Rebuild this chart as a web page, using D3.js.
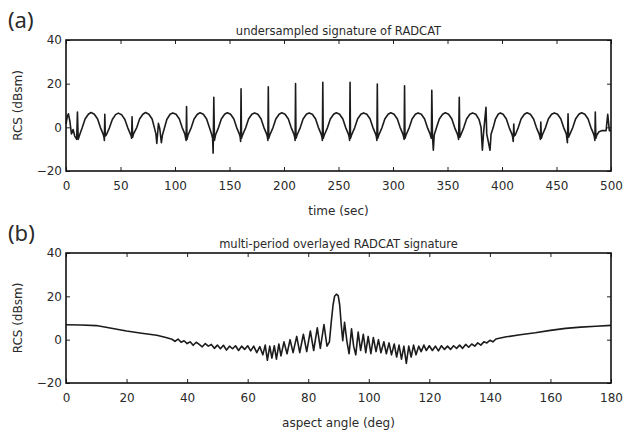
<html>
<head>
  <meta charset="utf-8">
  <script src="https://d3js.org/d3.v7.min.js"></script>
  <style>
    body { margin: 0; background: #fff; }
    text { font-family: "DejaVu Sans", sans-serif; fill: #2a2a2a; }
    .tick line { stroke: #222; stroke-width: 1px; }
    .tick text { font-size: 12px; }
    .frame { fill: none; stroke: #111; stroke-width: 1.6px; }
    .sig { fill: none; stroke: #1c1c1c; stroke-width: 1.6px; stroke-linejoin: round; }
  </style>
</head>
<body>
  <svg id="chart" width="627" height="433"></svg>
  <script>
    // (a) undersampled signature, [time sec, RCS dBsm]
    const sigA = [
      [0,1.5],[1.2,5],[2.2,6.2],[3.5,3],[5,-3],[6.5,-1],[8,-4],[9.8,-5.5],[10.5,7],[11.2,-5.5],[12.5,-3.5],
      [15,0],[17.5,3.8],[20.5,6],[23,6.8],[26,6],[29,3.8],[31.5,0],[34,-3],
      [34.8,-4.5],[35.2,-6],[35.6,6],[36.1,-4],[37,-3.5],
      [40,0],[42.5,3.6],[45.5,5.8],[48,6.5],[51,5.8],[54,3.6],[56.5,0],[59,-3],
      [59.8,-4],[60.2,-5],[60.6,4.8],[61.1,-4.5],[62,-3],
      [65,0],[67.5,3.8],[70.5,6],[73,6.8],[76,6],[79,3.8],[81,0],[82.5,-3],
      [83.3,-7.4],[84.8,1.8],[86,-0.5],[87.5,-7],[88.5,-3.5],
      [90.5,0],[92.5,3.6],[95.5,6],[98,6.6],[101,6],[104,3.8],[106.5,0],[109,-3],
      [109.8,-5],[110.2,-6],[110.6,9.5],[111,-5.5],[112,-3.5],
      [115,0],[117.5,3.8],[120.5,6],[123,6.7],[126,6],[129,3.8],[131.5,0],[133.5,-3],
      [134.5,-5],[135,-11.8],[135.6,13.8],[136.2,-6],[137.2,-3.5],
      [140,0],[142.5,3.8],[145.5,6],[148,6.7],[151,6],[154,3.8],[156.5,0],[159,-3],
      [159.8,-4.5],[160.2,-6.5],[160.6,17.7],[161,-5],[162,-3.5],
      [165,0],[167.5,3.8],[170.5,6],[173,6.6],[176,6],[179,3.8],[181.5,0],[184,-3],
      [184.8,-4.5],[185.2,-6],[185.6,18.6],[186,-5],[187,-3.5],
      [190,0],[192.5,3.8],[195.5,6],[198,6.7],[201,6],[204,3.8],[206.5,0],[209,-3],
      [209.8,-4.5],[210.2,-6],[210.6,20],[211,-5],[212,-3.5],
      [215,0],[217.5,3.8],[220.5,6],[223,6.6],[226,6],[229,3.8],[231.5,0],[234,-3],
      [234.8,-4.5],[235.2,-6],[235.6,20.6],[236,-5],[237,-3.5],
      [240,0],[242.5,3.8],[245.5,6],[248,6.7],[251,6],[254,3.8],[256.5,0],[259,-3],
      [259.8,-4.5],[260.2,-6],[260.6,20.6],[261,-5],[262,-3.5],
      [265,0],[267.5,3.8],[270.5,6],[273,6.6],[276,6],[279,3.8],[281.5,0],[284,-3],
      [284.8,-4.5],[285.2,-6],[285.6,19.8],[286,-5],[287,-3.5],
      [290,0],[292.5,3.8],[295.5,6],[298,6.7],[301,6],[304,3.8],[306.5,0],[309,-3],
      [309.8,-4.5],[310.2,-5.5],[310.6,19],[311,-5],[312,-3.5],
      [315,0],[317.5,3.8],[320.5,6],[323,6.6],[326,6],[329,3.8],[331.5,0],[334,-3],
      [334.8,-4.5],[335.2,-5],[335.6,17],[336.2,-4],[337,-10.5],[337.8,-3.5],
      [340,0],[342.5,3.8],[345.5,6],[348,6.7],[351,6],[354,3.8],[356.5,0],[359,-3],
      [359.8,-4.5],[360.2,-5.5],[360.8,13.8],[361.3,-4.5],[362.2,-3.5],
      [365,0],[367.5,3.8],[370.5,6],[373,6.6],[376,6],[379,3.5],[380.8,0],
      [382,-10.5],[383,-3],[385.3,9.2],[386,-3],[389,-10.5],[390,-3],
      [392,0],[394,3.8],[396.5,6],[398.5,6.6],[401,6],[404,3.8],[406.5,0],[409,-3],
      [409.8,-4.5],[410.3,-6.5],[410.8,1.5],[411.3,-4],[412.2,-3.5],
      [415,0],[417.5,3.8],[420.5,6],[423,6.7],[426,6],[429,3.8],[431.5,0],[434,-3],
      [434.8,-4.5],[435.2,-5.5],[435.6,2.4],[436.1,-5],[437,-3.5],
      [440,0],[442.5,3.8],[445.5,6],[448,6.6],[451,6],[454,3.8],[456.5,0],[459,-3],
      [459.5,-5],[460,-7],[460.6,6.2],[461.1,-4.5],[462,-3.5],
      [465,0],[467.5,3.8],[470.5,6],[473,6.7],[476,6],[479,3.8],[481.5,0],[484,-3],
      [484.8,-4.5],[485.2,-6],[485.6,7],[486.1,-5],[487,-3.5],
      [489,-2],[492,-1.5],[495.5,-1.5],[497,6],[498.5,-1.5],[500,-1.5]
    ];

    // (b) overlayed signature, [aspect deg, RCS dBsm]
    const sigB = [
      [0,6.9],[5,6.8],[10,6.5],[15,5.3],[20,4],[25,3],[30,2],[33,1],[35,0.2],
      [36,-0.8],[37,0.3],[38,-1.2],[39,-0.5],[40,-1.8],[41,-1],[42,-2.6],[43,-1.2],[44,-2.2],
      [45,-3.3],[46,-1.8],[47,-3],[48,-2.2],[49,-4],[50,-2.5],[51,-4.2],[52,-2.6],[53,-4.8],
      [54,-3],[55,-4.2],[56,-2.8],[57,-5],[58,-3],[59,-4.5],[60,-2.8],[61,-5.2],[62,-3],
      [63,-6],[64,-3.2],[65,-7],[65.8,-2.5],[66.5,-9.5],[67.3,-3],[68,-8.5],[68.8,-2.8],
      [69.5,-9],[70.3,-2],[71,-7.5],[72,-1],[73,-6.5],[74,0],[75,-6],[76.2,1.5],[77.2,-6],
      [78.4,2.5],[79.5,-5.5],[80.7,4],[81.8,-5],[83,5.5],[84,-4],[85.2,7],[86.2,-3],[87,-1],
      [87.6,8],[88.2,16],[88.7,20],[89.3,21],[89.9,20.3],[90.4,16],[90.9,7],[91.4,-0.5],
      [92,8],[92.8,-1],[93.5,-6.5],[94.3,5],[95,-3],[95.7,-7],[96.5,3.5],[97.3,-5],[98.2,2.5],
      [99,-6],[99.8,1.5],[100.7,-6.5],[101.5,1],[102.4,-5.5],[103.2,0],[104,-6],[105,-1],
      [105.8,-6.5],[106.7,-1.5],[107.5,-7],[108.4,-2],[109.2,-8],[110,-2.5],[110.8,-9],
      [111.6,-3],[112.4,-11],[113.2,-3],[114,-8],[114.8,-2.5],[115.6,-7],[116.5,-3],
      [117.3,-5.5],[118.2,-2.5],[119,-5],[120,-2.8],[121,-5],[122,-3],[123,-5.2],[124,-2.8],
      [125,-4.5],[126,-3],[127,-4.5],[128,-2.8],[129,-4],[130,-2.5],[131,-4],[132,-2.2],
      [133,-3.5],[134,-2],[135,-3],[136,-1.5],[137,-2.5],[138,-1],[139,-1.5],[140,-0.3],
      [141,-1],[142,0.3],[145,1.2],[150,2.3],[155,3.2],[160,4.3],[165,5.2],[170,5.8],
      [175,6.2],[180,6.6]
    ];

    const yTicks = [-20, 0, 20, 40];
    const xTicksA = d3.range(0, 501, 50);
    const xTicksB = d3.range(0, 181, 20);

    const svg = d3.select('#chart');

    function panel(cfg) {
      const x = d3.scaleLinear().domain(cfg.xDomain).range([cfg.left, cfg.right]);
      const y = d3.scaleLinear().domain([-20, 40]).range([cfg.bottom, cfg.top]);
      const g = svg.append('g');

      g.append('g').attr('transform', `translate(0,${cfg.bottom})`)
        .call(d3.axisBottom(x).tickValues(cfg.xTicks).tickSize(-4).tickSizeOuter(0).tickPadding(10))
        .call(a => a.select('.domain').remove());
      g.append('g').attr('transform', `translate(0,${cfg.top})`)
        .call(d3.axisTop(x).tickValues(cfg.xTicks).tickSize(-4).tickSizeOuter(0).tickFormat(''))
        .call(a => a.select('.domain').remove());
      g.append('g').attr('transform', `translate(${cfg.left},0)`)
        .call(d3.axisLeft(y).tickValues(yTicks).tickSize(-4).tickSizeOuter(0).tickPadding(4))
        .call(a => a.select('.domain').remove());
      g.append('g').attr('transform', `translate(${cfg.right},0)`)
        .call(d3.axisRight(y).tickValues(yTicks).tickSize(-4).tickSizeOuter(0).tickFormat(''))
        .call(a => a.select('.domain').remove());

      g.selectAll('.tick text').attr('fill', '#2a2a2a').style('font-family', '"DejaVu Sans", sans-serif');

      const line = d3.line().x(d => x(d[0])).y(d => y(d[1]));
      g.append('path').datum(cfg.data).attr('class', 'sig').attr('d', line);

      g.append('rect').attr('class', 'frame')
        .attr('x', cfg.left).attr('y', cfg.top)
        .attr('width', cfg.right - cfg.left).attr('height', cfg.bottom - cfg.top);

      g.append('text').attr('x', (cfg.left + cfg.right) / 2).attr('y', cfg.top - 5)
        .attr('text-anchor', 'middle').style('font-size', '11.5px').text(cfg.title);
      g.append('text').attr('x', (cfg.left + cfg.right) / 2).attr('y', cfg.bottom + 44)
        .attr('text-anchor', 'middle').style('font-size', '12px').text(cfg.xLabel);
      g.append('text')
        .attr('transform', `translate(22,${(cfg.top + cfg.bottom) / 2}) rotate(-90)`)
        .attr('text-anchor', 'middle').style('font-size', '12px').text('RCS (dBsm)');
      g.append('text').attr('x', 8).attr('y', cfg.top - 12)
        .style('font-family', '"Noto Sans", sans-serif').style('font-size', '22px')
        .attr('fill', '#111').text(cfg.tag);
    }

    panel({ data: sigA, xDomain: [0, 500], xTicks: xTicksA, left: 66, right: 611, top: 40, bottom: 171,
      title: 'undersampled signature of RADCAT', xLabel: 'time (sec)', tag: '(a)' });
    panel({ data: sigB, xDomain: [0, 180], xTicks: xTicksB, left: 66, right: 611, top: 253, bottom: 383,
      title: 'multi-period overlayed RADCAT signature', xLabel: 'aspect angle (deg)', tag: '(b)' });
  </script>
</body>
</html>
